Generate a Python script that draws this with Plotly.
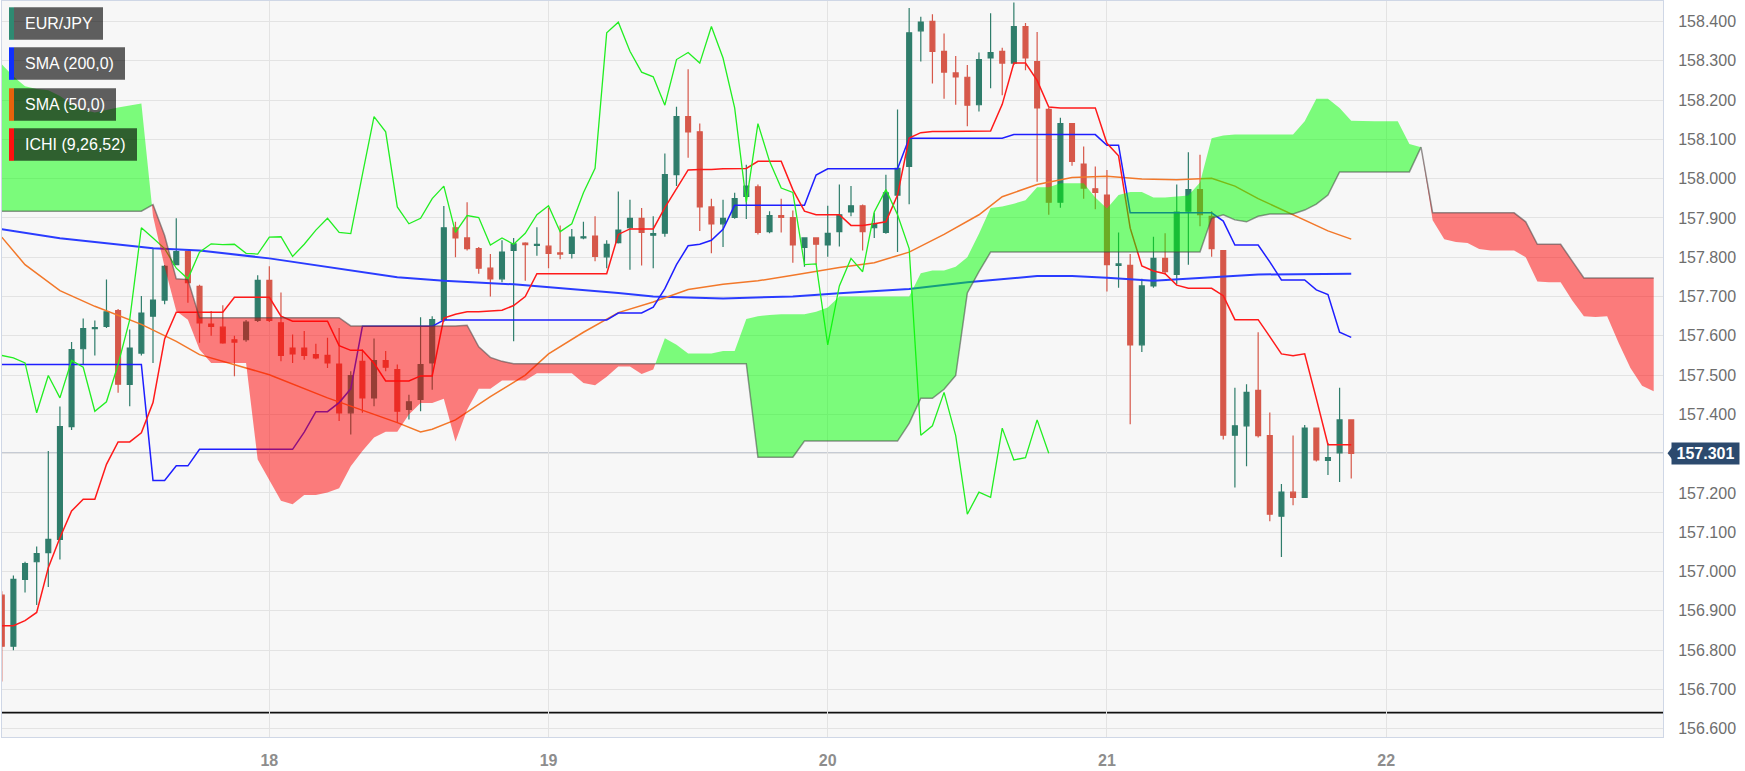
import plotly.graph_objects as go

# ---------------- data (hourly candles, hour 0 = day 18 00:00) ----------------
hours = list(range(-23, 94))

opens = [156.94, 156.81, 156.98, 157.025, 157.048, 157.082, 157.369, 157.567, 157.618, 157.624,
         157.664, 157.476, 157.556, 157.650, 157.691, 157.781, 157.814, 157.726, 157.630, 157.622,
         157.590, 157.590, 157.639, 157.741, 157.633, 157.569, 157.569, 157.552, 157.550, 157.528,
         157.404, 157.535, 157.442, 157.537, 157.514, 157.413, 157.438, 157.531, 157.641, 157.875,
         157.849, 157.822, 157.772, 157.745, 157.817, 157.836, 157.830, 157.828, 157.811, 157.810,
         157.849, 157.854, 157.801, 157.837, 157.875, 157.899, 157.856, 157.861, 158.010, 158.158,
         158.119, 157.928, 157.885, 157.901, 157.955, 157.979, 157.865, 157.906, 157.901, 157.825,
         157.849, 157.831, 157.865, 157.915, 157.931, 157.875, 157.863, 157.958, 158.031, 158.376,
         158.400, 158.324, 158.269, 158.258, 158.188, 158.307, 158.324, 158.294, 158.387, 158.298,
         158.176, 157.940, 158.140, 158.037, 157.974, 157.958, 157.779, 157.779, 157.577, 157.727,
         157.797, 157.756, 157.917, 157.972, 157.904, 157.817, 157.347, 157.371, 157.461, 157.346,
         157.141, 157.202, 157.189, 157.365, 157.283, 157.302, 157.386]
highs = [156.95, 156.99, 157.025, 157.064, 157.307, 157.42, 157.584, 157.644, 157.639, 157.743,
         157.668, 157.616, 157.701, 157.824, 157.78, 157.899, 157.816, 157.73, 157.663, 157.678,
         157.60, 157.64, 157.754, 157.777, 157.71, 157.603, 157.612, 157.58, 157.595, 157.62,
         157.51, 157.565, 157.593, 157.561, 157.527, 157.45, 157.647, 157.65, 157.930, 157.89,
         157.94, 157.826, 157.808, 157.843, 157.849, 157.838, 157.876, 157.926, 157.881, 157.872,
         157.890, 157.904, 157.843, 157.967, 157.946, 157.925, 157.904, 158.064, 158.183, 158.278,
         158.140, 157.949, 157.946, 157.964, 158.035, 157.985, 157.917, 157.949, 157.919, 157.849,
         157.850, 157.931, 157.985, 157.981, 157.934, 157.913, 158.010, 158.176, 158.434, 158.412,
         158.418, 158.369, 158.312, 158.289, 158.321, 158.421, 158.333, 158.448, 158.396, 158.373,
         158.180, 158.155, 158.140, 158.082, 158.031, 158.022, 157.863, 157.808, 157.745, 157.852,
         157.861, 157.985, 158.067, 158.061, 157.917, 157.817, 157.468, 157.477, 157.609, 157.405,
         157.223, 157.346, 157.373, 157.365, 157.327, 157.468, 157.386]
lows = [156.72, 156.80, 156.947, 156.915, 156.961, 157.031, 157.36, 157.527, 157.55, 157.62,
        157.455, 157.421, 157.55, 157.531, 157.68, 157.78, 157.684, 157.582, 157.60, 157.58,
        157.497, 157.585, 157.635, 157.635, 157.535, 157.531, 157.539, 157.54, 157.518, 157.383,
        157.349, 157.404, 157.421, 157.51, 157.379, 157.387, 157.408, 157.463, 157.635, 157.80,
        157.817, 157.758, 157.70, 157.736, 157.586, 157.740, 157.804, 157.772, 157.795, 157.797,
        157.846, 157.790, 157.772, 157.835, 157.768, 157.779, 157.772, 157.852, 157.981, 158.053,
        157.867, 157.810, 157.826, 157.898, 157.897, 157.858, 157.861, 157.863, 157.786, 157.776,
        157.781, 157.801, 157.827, 157.904, 157.817, 157.849, 157.860, 157.813, 157.935, 158.298,
        158.242, 158.203, 158.188, 158.133, 158.171, 158.230, 158.212, 158.289, 158.276, 157.992,
        157.908, 157.926, 158.033, 157.949, 157.922, 157.713, 157.722, 157.375, 157.559, 157.722,
        157.756, 157.731, 157.781, 157.879, 157.801, 157.336, 157.214, 157.268, 157.341, 157.128,
        157.037, 157.169, 157.187, 157.280, 157.246, 157.228, 157.237]
closes = [156.81, 156.98, 157.02, 157.046, 157.082, 157.369, 157.565, 157.618, 157.621, 157.661,
          157.477, 157.569, 157.658, 157.691, 157.777, 157.814, 157.735, 157.633, 157.624, 157.582,
          157.584, 157.635, 157.741, 157.639, 157.550, 157.554, 157.550, 157.544, 157.531, 157.404,
          157.499, 157.442, 157.537, 157.520, 157.408, 157.432, 157.527, 157.641, 157.875, 157.849,
          157.822, 157.772, 157.745, 157.813, 157.834, 157.832, 157.833, 157.810, 157.808, 157.851,
          157.852, 157.802, 157.833, 157.869, 157.899, 157.863, 157.860, 158.010, 158.158, 158.119,
          157.928, 157.885, 157.899, 157.949, 157.981, 157.863, 157.906, 157.901, 157.831, 157.849,
          157.833, 157.861, 157.908, 157.931, 157.865, 157.885, 157.964, 158.026, 158.371, 158.398,
          158.324, 158.271, 158.259, 158.187, 158.303, 158.321, 158.294, 158.387, 158.307, 158.180,
          157.940, 158.140, 158.044, 157.976, 157.965, 157.781, 157.783, 157.577, 157.727, 157.797,
          157.763, 157.915, 157.972, 157.908, 157.822, 157.347, 157.371, 157.456, 157.346, 157.146,
          157.202, 157.189, 157.365, 157.284, 157.290, 157.386, 157.301]

# Ichimoku conversion (tenkan) and base (kijun) lines, read hourly
tenkan = [156.862, 156.862, 156.875, 156.896, 157.010, 157.086, 157.154, 157.184, 157.184, 157.273,
          157.330, 157.330, 157.353, 157.430, 157.592, 157.660, 157.660, 157.660, 157.660, 157.660,
          157.698, 157.698, 157.698, 157.698, 157.650, 157.637, 157.637, 157.637, 157.637, 157.575,
          157.563, 157.563, 157.530, 157.485, 157.485, 157.485, 157.498, 157.498, 157.645, 157.655,
          157.661, 157.661, 157.663, 157.665, 157.677, 157.700, 157.758, 157.758, 157.758, 157.758,
          157.758, 157.758, 157.758, 157.858, 157.872, 157.872, 157.872, 157.926, 157.974, 158.022,
          158.023, 158.023, 158.025, 158.026, 158.026, 158.044, 158.044, 158.044, 157.972, 157.917,
          157.908, 157.908, 157.908, 157.881, 157.881, 157.885, 157.890, 157.958, 158.103, 158.117,
          158.120, 158.120, 158.120, 158.121, 158.121, 158.121, 158.189, 158.294, 158.294, 158.250,
          158.182, 158.180, 158.180, 158.180, 158.180, 158.090, 158.058, 157.874, 157.778, 157.765,
          157.758, 157.729, 157.721, 157.721, 157.721, 157.702, 157.641, 157.641, 157.641, 157.598,
          157.554, 157.549, 157.554, 157.440, 157.323, 157.323, 157.323]
kijun = [157.527, 157.527, 157.527, 157.527, 157.527, 157.527, 157.527, 157.527, 157.527, 157.527,
         157.527, 157.527, 157.527, 157.232, 157.232, 157.269, 157.269, 157.311, 157.311, 157.311,
         157.311, 157.311, 157.311, 157.311, 157.311, 157.311, 157.355, 157.407, 157.407, 157.430,
         157.465, 157.624, 157.624, 157.624, 157.624, 157.624, 157.624, 157.624, 157.640, 157.640,
         157.640, 157.640, 157.640, 157.640, 157.640, 157.640, 157.640, 157.640, 157.640, 157.640,
         157.640, 157.640, 157.640, 157.658, 157.658, 157.658, 157.673, 157.720, 157.781, 157.829,
         157.833, 157.843, 157.871, 157.932, 157.932, 157.932, 157.932, 157.932, 157.932, 157.932,
         158.009, 158.025, 158.025, 158.025, 158.025, 158.025, 158.025, 158.025, 158.103, 158.103,
         158.103, 158.103, 158.103, 158.103, 158.103, 158.103, 158.103, 158.112, 158.112, 158.112,
         158.112, 158.112, 158.112, 158.112, 158.112, 158.085, 158.085, 157.913, 157.913, 157.913,
         157.913, 157.913, 157.913, 157.913, 157.913, 157.892, 157.831, 157.831, 157.831, 157.788,
         157.742, 157.742, 157.742, 157.717, 157.705, 157.609, 157.596]
lag = 26  # lagging span is the close drawn 26 periods back

# Ichimoku cloud (leading spans A and B), hours -23 .. 119
cloud_hours = list(range(-23, 120))
span_a = [158.291, 158.260, 158.235, 158.228, 158.225, 158.210, 158.190, 158.175, 158.168, 158.175,
          158.181, 158.186, 158.191, 157.905, 157.775, 157.663, 157.641, 157.565, 157.531, 157.531,
          157.531, 157.531, 157.285, 157.231, 157.180, 157.171, 157.195, 157.195, 157.201, 157.212,
          157.268, 157.307, 157.341, 157.356, 157.356, 157.400, 157.429, 157.429, 157.440, 157.331,
          157.412, 157.465, 157.465, 157.486, 157.486, 157.486, 157.505, 157.505, 157.505, 157.505,
          157.480, 157.474, 157.496, 157.522, 157.522, 157.503, 157.514, 157.594, 157.577, 157.555,
          157.555, 157.555, 157.561, 157.561, 157.643, 157.650, 157.653, 157.655, 157.655, 157.655,
          157.661, 157.672, 157.700, 157.700, 157.700, 157.700, 157.700, 157.700, 157.700, 157.759,
          157.766, 157.766, 157.776, 157.800, 157.860, 157.925, 157.929, 157.936, 157.945, 157.978,
          157.978, 157.988, 157.988, 157.988, 157.952, 157.924, 157.958, 157.966, 157.966, 157.952,
          157.952, 157.954, 157.957, 157.990, 158.103, 158.110, 158.112, 158.112, 158.112, 158.112,
          158.112, 158.112, 158.146, 158.203, 158.203, 158.180, 158.147, 158.146, 158.146, 158.146,
          158.146, 158.088, 158.080, 157.894, 157.846, 157.839, 157.836, 157.821, 157.817, 157.817,
          157.817, 157.800, 157.738, 157.736, 157.736, 157.690, 157.650, 157.648, 157.650, 157.581,
          157.518, 157.473, 157.459]
span_b = [157.917, 157.917, 157.917, 157.917, 157.917, 157.917, 157.917, 157.917, 157.917, 157.917,
          157.917, 157.917, 157.917, 157.934, 157.855, 157.745, 157.743, 157.646, 157.646, 157.646,
          157.646, 157.646, 157.646, 157.646, 157.646, 157.646, 157.646, 157.646, 157.646, 157.646,
          157.625, 157.625, 157.625, 157.625, 157.625, 157.625, 157.625, 157.625, 157.625, 157.625,
          157.627, 157.572, 157.545, 157.535, 157.529, 157.529, 157.529, 157.529, 157.529, 157.529,
          157.529, 157.529, 157.529, 157.529, 157.529, 157.529, 157.529, 157.529, 157.529, 157.529,
          157.529, 157.529, 157.529, 157.529, 157.529, 157.291, 157.291, 157.291, 157.291, 157.332,
          157.332, 157.332, 157.332, 157.332, 157.332, 157.332, 157.332, 157.332, 157.377, 157.441,
          157.441, 157.464, 157.499, 157.709, 157.763, 157.813, 157.813, 157.813, 157.813, 157.813,
          157.813, 157.813, 157.813, 157.813, 157.813, 157.813, 157.813, 157.813, 157.813, 157.813,
          157.813, 157.813, 157.813, 157.813, 157.899, 157.908, 157.895, 157.890, 157.904, 157.910,
          157.910, 157.910, 157.920, 157.935, 157.958, 158.017, 158.017, 158.017, 158.017, 158.017,
          158.017, 158.017, 158.080, 157.913, 157.913, 157.913, 157.913, 157.913, 157.913, 157.913,
          157.913, 157.890, 157.833, 157.833, 157.833, 157.790, 157.747, 157.747, 157.747, 157.747,
          157.747, 157.747, 157.747]

# moving averages (read at the hours listed)
sma200_hours = [-23, -18, -10, -6, 0, 5, 11, 15, 21, 30, 33, 39, 45, 49, 55, 60, 66, 69, 72, 76, 81, 85, 93]
sma200 = [157.871, 157.848, 157.823, 157.817, 157.797, 157.775, 157.749, 157.740, 157.731, 157.709,
          157.700, 157.695, 157.700, 157.708, 157.719, 157.736, 157.752, 157.752, 157.748, 157.740,
          157.749, 157.756, 157.758]
sma50_hours = [-23, -21, -18, -15, -11, -8, -6, 0, 5, 11, 13, 14, 16, 19, 22, 24, 27, 30, 33, 36,
               39, 42, 45, 49, 52, 55, 58, 61, 63, 66, 69, 72, 75, 78, 81, 83, 85, 88, 91, 93]
sma50 = [157.851, 157.781, 157.715, 157.675, 157.629, 157.586, 157.552, 157.501, 157.442, 157.379,
         157.355, 157.362, 157.386, 157.445, 157.500, 157.554, 157.609, 157.659, 157.686, 157.718,
         157.731, 157.740, 157.754, 157.774, 157.786, 157.813, 157.858, 157.908, 157.954, 157.985,
         158.003, 158.006, 157.999, 157.997, 158.001, 157.981, 157.949, 157.908, 157.867, 157.846]

day_ticks = [0, 24, 48, 72, 96]
day_labels = ["18", "19", "20", "21", "22"]
y_ticks = [156.6, 156.7, 156.8, 156.9, 157.0, 157.1, 157.2, 157.3, 157.4, 157.5,
           157.6, 157.7, 157.8, 157.9, 158.0, 158.1, 158.2, 158.3, 158.4]
last_price = 157.301
support_level = 156.641
legend_names = ["EUR/JPY", "SMA (200,0)", "SMA (50,0)", "ICHI (9,26,52)"]

# ---------------- styling ----------------
FONT = "Liberation Sans, Arial, sans-serif"
GREEN_C = "rgb(47,125,107)"
RED_C = "rgb(214,88,74)"
FIG_W, FIG_H = 1745, 771
M_L, M_R, M_T, M_B = 2, 82, 1, 34
PLOT_W = FIG_W - M_L - M_R
PLOT_H = FIG_H - M_T - M_B


def px_x(px):
    return (px - M_L) / PLOT_W


def px_y(py):
    return (M_T + PLOT_H - py) / PLOT_H


fig = go.Figure()

fig.add_trace(go.Candlestick(
    x=hours, open=opens, high=highs, low=lows, close=closes,
    increasing=dict(line=dict(color=GREEN_C, width=1.2), fillcolor=GREEN_C),
    decreasing=dict(line=dict(color=RED_C, width=1.2), fillcolor=RED_C),
    whiskerwidth=0, hoverinfo="skip", showlegend=False))

fig.add_trace(go.Scatter(x=sma200_hours, y=sma200, mode="lines",
                         line=dict(color="#2a3cff", width=2), hoverinfo="skip"))
fig.add_trace(go.Scatter(x=sma50_hours, y=sma50, mode="lines",
                         line=dict(color="#f2782a", width=1.5), hoverinfo="skip"))
fig.add_trace(go.Scatter(x=hours, y=kijun, mode="lines",
                         line=dict(color="#1e1eff", width=1.5), hoverinfo="skip"))
fig.add_trace(go.Scatter(x=hours, y=tenkan, mode="lines",
                         line=dict(color="#ff1a1a", width=1.5), hoverinfo="skip"))
fig.add_trace(go.Scatter(x=[h - lag for h in hours], y=closes, mode="lines",
                         line=dict(color="#22ee22", width=1.3), hoverinfo="skip"))

# cloud polygons split where span A crosses span B
runs = []
cur = [(cloud_hours[0], span_a[0], span_b[0])]
for i in range(len(cloud_hours) - 1):
    d0 = span_a[i] - span_b[i]
    d1 = span_a[i + 1] - span_b[i + 1]
    if (d0 >= 0) != (d1 >= 0) and d0 != d1:
        t = d0 / (d0 - d1)
        xc = cloud_hours[i] + t * (cloud_hours[i + 1] - cloud_hours[i])
        yc = span_a[i] + t * (span_a[i + 1] - span_a[i])
        cur.append((xc, yc, yc))
        runs.append(cur)
        cur = [(xc, yc, yc)]
    cur.append((cloud_hours[i + 1], span_a[i + 1], span_b[i + 1]))
runs.append(cur)

for run in runs:
    xs = [p[0] for p in run]
    ya = [p[1] for p in run]
    yb = [p[2] for p in run]
    diff = sum(a - b for a, b in zip(ya, yb))
    color = "rgba(0,255,0,0.5)" if diff > 0 else "rgba(255,0,0,0.5)"
    fig.add_trace(go.Scatter(x=xs + xs[::-1], y=ya + yb[::-1], mode="lines",
                             fill="toself", fillcolor=color, line=dict(width=0),
                             hoverinfo="skip"))

fig.add_trace(go.Scatter(x=cloud_hours, y=span_b, mode="lines",
                         line=dict(color="rgba(70,70,70,0.55)", width=1.5), hoverinfo="skip"))

shapes = [
    dict(type="line", xref="paper", x0=0, x1=1, yref="y", y0=last_price, y1=last_price,
         line=dict(color="#34496b", width=1.2), layer="below"),
    dict(type="line", xref="paper", x0=0, x1=1, yref="y", y0=support_level, y1=support_level,
         line=dict(color="#111111", width=1.6), layer="below"),
]
annotations = []

# indicator labels (top-left)
stripe_colors = ["#2e8a72", "#1030ff", "#e8620c", "#ff1010"]
box_right = [103, 125, 116, 137]
box_top = [7.3, 47.3, 88.3, 128.3]
BOX_H = 32.5
for name, sc, br, bt in zip(legend_names, stripe_colors, box_right, box_top):
    shapes.append(dict(type="rect", xref="paper", yref="paper",
                       x0=px_x(14), x1=px_x(br), y0=px_y(bt + BOX_H), y1=px_y(bt),
                       fillcolor="rgba(0,0,0,0.62)", line=dict(width=0), layer="above"))
    shapes.append(dict(type="rect", xref="paper", yref="paper",
                       x0=px_x(9), x1=px_x(14), y0=px_y(bt + BOX_H), y1=px_y(bt),
                       fillcolor=sc, line=dict(width=0), layer="above"))
    annotations.append(dict(xref="paper", yref="paper", x=px_x(22.5), y=px_y(bt + BOX_H / 2),
                            xanchor="left", yanchor="middle", text=name, showarrow=False,
                            font=dict(family=FONT, size=16, color="white")))

# last price tag on the right axis
tag_y_half = 0.0165
shapes.append(dict(type="path", xref="paper", yref="y",
                   path=f"M {px_x(1667.5)},{last_price} L {px_x(1672.5)},{last_price + tag_y_half} "
                        f"L {px_x(1672.5)},{last_price - tag_y_half} Z",
                   fillcolor="#2c4a6e", line=dict(width=0), layer="above"))
annotations.append(dict(xref="paper", yref="y", x=px_x(1705.5), y=last_price,
                        xanchor="center", yanchor="middle", text="<b>157.301</b>", showarrow=False,
                        bgcolor="#2c4a6e", width=63, height=17, borderpad=2,
                        font=dict(family=FONT, size=16, color="white")))

y_text = [("" if abs(v - 157.3) < 1e-9 else f"{v:.3f}") for v in y_ticks]

fig.update_layout(
    width=FIG_W, height=FIG_H, autosize=False,
    margin=dict(l=M_L, r=M_R, t=M_T, b=M_B, pad=0),
    paper_bgcolor="white", plot_bgcolor="#f7f7f7",
    showlegend=False, boxgap=0.4,
    shapes=shapes, annotations=annotations,
    font=dict(family=FONT),
    xaxis=dict(range=[-22.98, 119.8], tickvals=day_ticks, ticktext=day_labels,
               showgrid=True, gridcolor="#e3e3e3", gridwidth=1.2, zeroline=False,
               showline=True, linecolor="#cfd7e6", linewidth=1, mirror=True,
               ticks="", ticklabelstandoff=9, rangeslider=dict(visible=False),
               tickfont=dict(family=FONT, size=16, color="#8d8d8d", weight="bold"),
               fixedrange=True),
    yaxis=dict(range=[156.579, 158.452], side="right", tickvals=y_ticks, ticktext=y_text,
               showgrid=True, gridcolor="#e3e3e3", gridwidth=1.2, zeroline=False,
               showline=True, linecolor="#cfd7e6", linewidth=1, mirror=True,
               ticks="", ticklabelstandoff=11,
               tickfont=dict(family=FONT, size=16, color="#6e6e6e"), fixedrange=True),
)

fig.write_html("out.html", post_script="document.body.style.margin='0';",
               config={"displayModeBar": False})
